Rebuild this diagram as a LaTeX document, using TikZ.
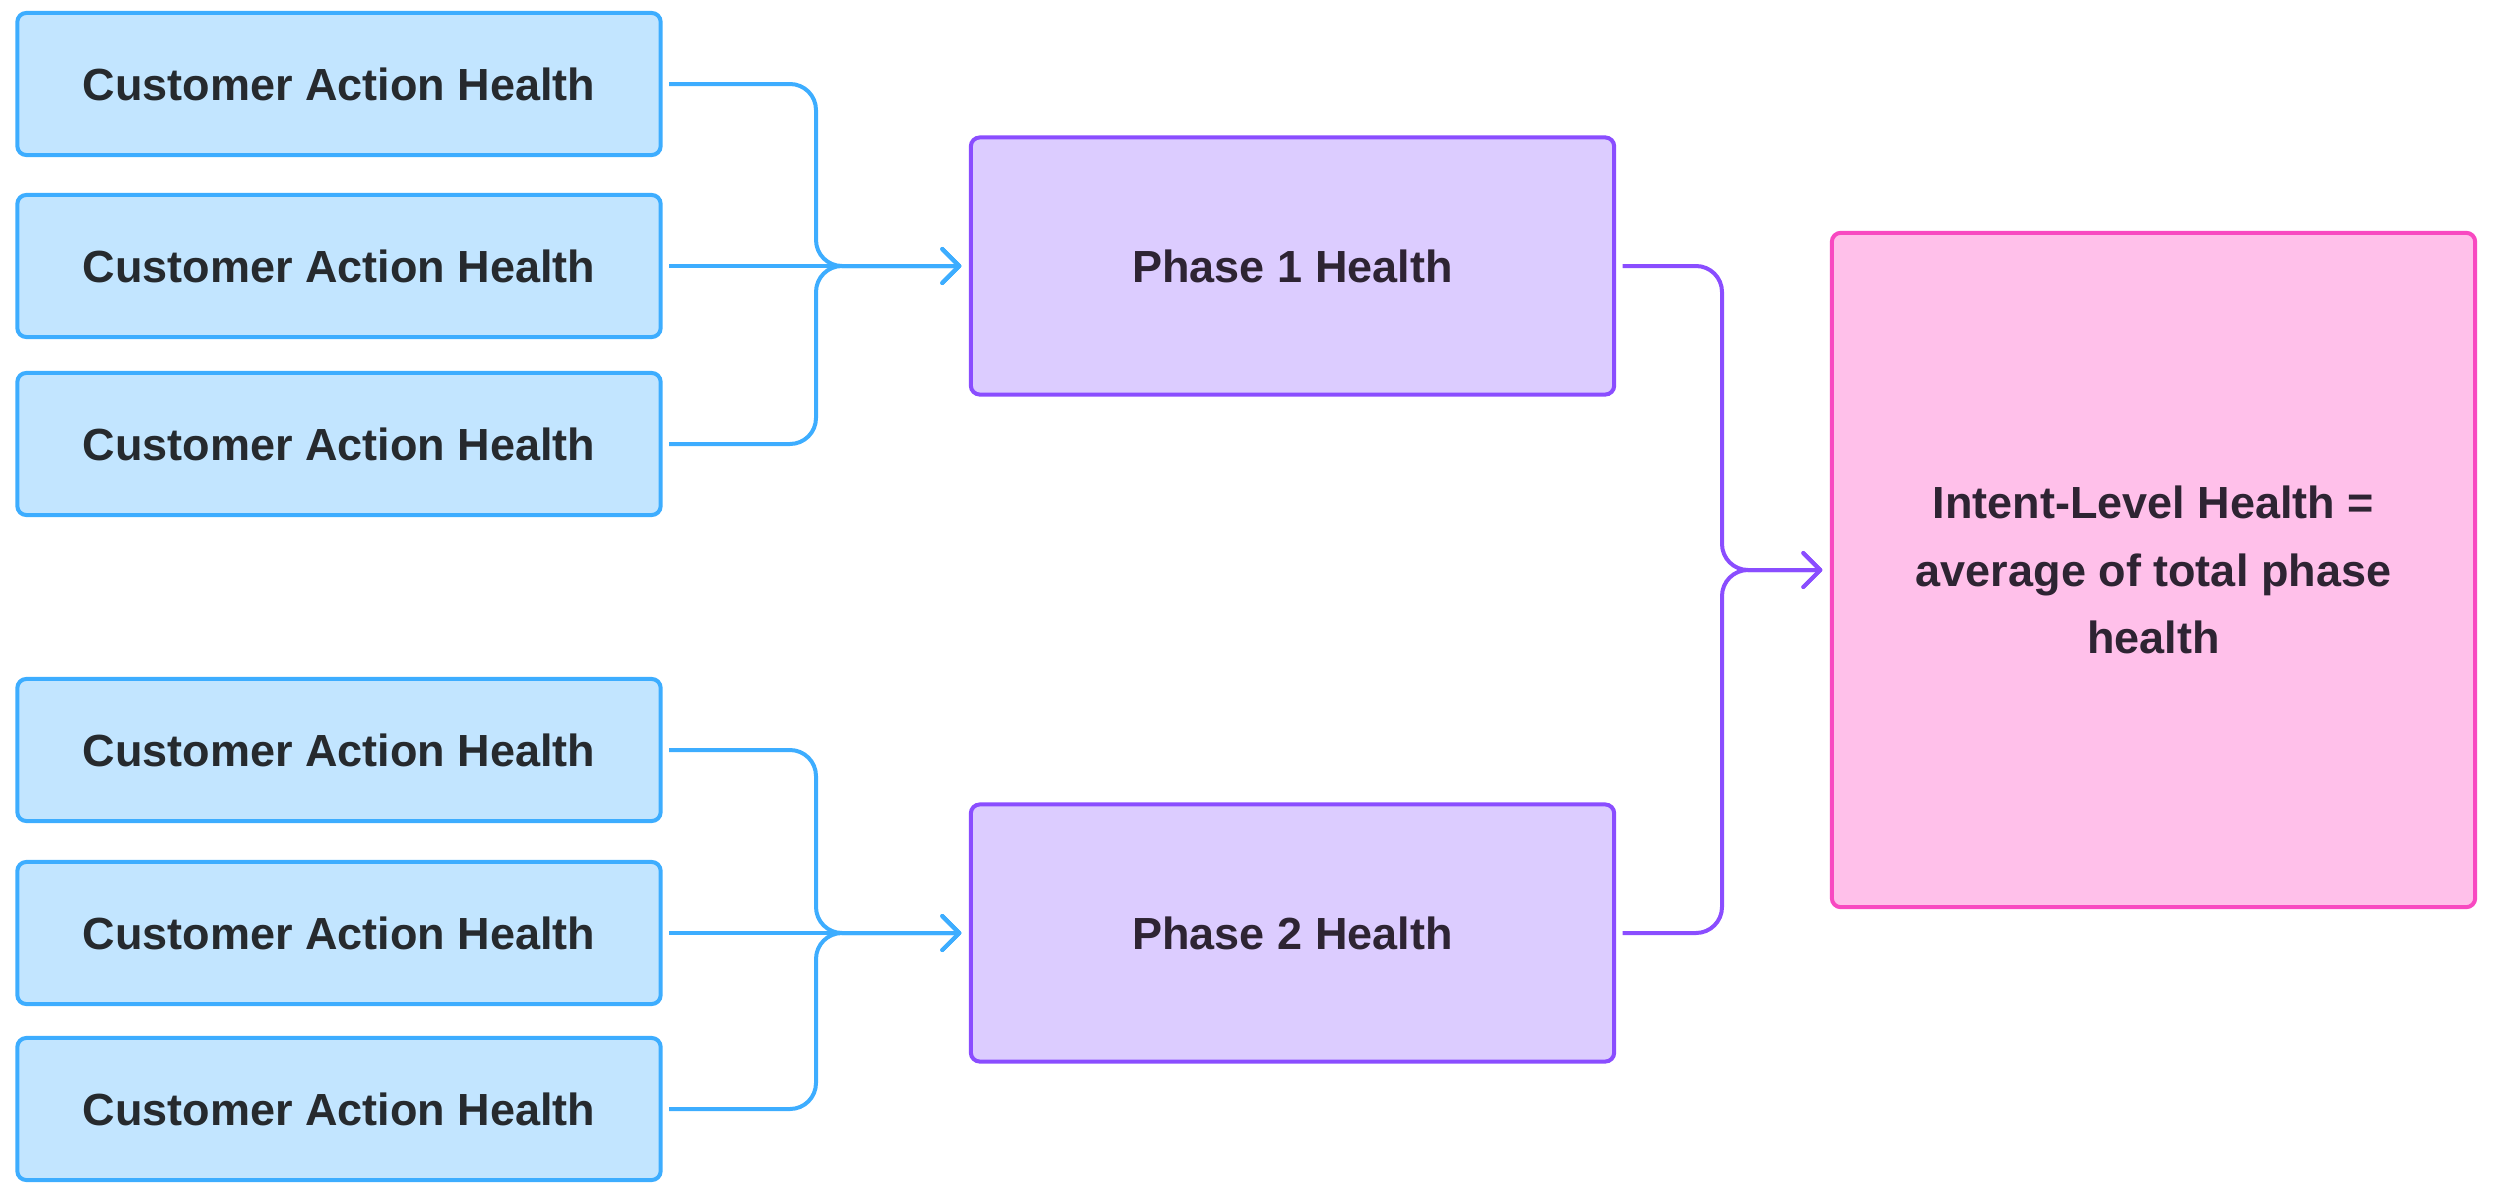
\documentclass[tikz,border=0pt]{standalone}
\usepackage{fontspec}
\setmainfont{Liberation Sans}
\usetikzlibrary{arrows.meta}
\definecolor{bfill}{HTML}{C2E5FF}
\definecolor{bline}{HTML}{3DADFF}
\definecolor{pfill}{HTML}{DCCCFF}
\definecolor{pline}{HTML}{8A4DFF}
\definecolor{kfill}{HTML}{FFC0EA}
\definecolor{kline}{HTML}{F849C1}
\definecolor{txt}{HTML}{262A2E}
\definecolor{ptxt}{HTML}{2E2433}
\tikzset{
  box/.style={rounded corners=0.09cm, line width=0.04cm, minimum width=6.43cm,
    font=\fontsize{12.8}{19.3}\selectfont\bfseries, align=center, inner sep=0pt},
  cab/.style={box, fill=bfill, draw=bline, text=txt, minimum height=1.42cm},
  phase/.style={box, fill=pfill, draw=pline, text=ptxt, minimum height=2.57cm},
  intent/.style={box, fill=kfill, draw=kline, text=ptxt, minimum height=6.74cm},
  link/.style={line width=0.04cm, rounded corners=0.26cm,
    -{Straight Barb[length=0.17cm,width=0.34cm,round]},
    shorten <=0.065cm, shorten >=0.075cm}
}
\begin{document}
\begin{tikzpicture}[x=0.01cm,y=-0.01cm]
\useasboundingbox (0,0) rectangle (2500,1200);
\node[cab] (b1) at (339,84) {Customer Action Health};
\node[cab] (b2) at (339,266) {Customer Action Health};
\node[cab] (b3) at (339,444) {Customer Action Health};
\node[cab] (b4) at (339,750) {Customer Action Health};
\node[cab] (b5) at (339,933) {Customer Action Health};
\node[cab] (b6) at (339,1109) {Customer Action Health};
\node[phase] (p1) at (1292.5,266) {Phase 1 Health};
\node[phase] (p2) at (1292.5,933) {Phase 2 Health};
\node[intent] (it) at (2153.5,570) {Intent-Level Health =\\average of total phase\\health};
\coordinate (j1) at (816,266);
\coordinate (j2) at (816,933);
\coordinate (j3) at (1722,570);
\draw[link, bline] (b1.east) -| (j1) -- (p1.west);
\draw[link, bline] (b2.east) -- (p1.west);
\draw[link, bline] (b3.east) -| (j1) -- (p1.west);
\draw[link, bline] (b4.east) -| (j2) -- (p2.west);
\draw[link, bline] (b5.east) -- (p2.west);
\draw[link, bline] (b6.east) -| (j2) -- (p2.west);
\draw[link, pline] (p1.east) -| (j3) -- (it.west);
\draw[link, pline] (p2.east) -| (j3) -- (it.west);
\end{tikzpicture}
\end{document}
